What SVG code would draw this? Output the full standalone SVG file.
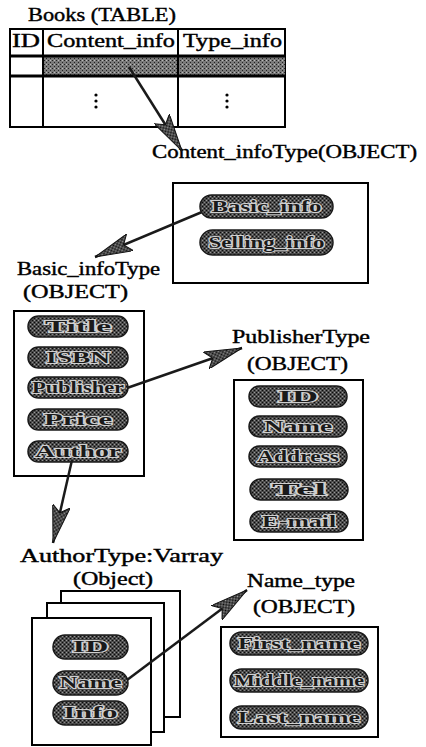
<svg xmlns="http://www.w3.org/2000/svg" width="426" height="747" viewBox="0 0 426 747">
<defs>
<style>
.lbl{font-family:"Liberation Serif","Times New Roman",serif;font-size:18px;fill:#000;stroke:#000;stroke-width:0.4px;}
.hd{font-family:"Liberation Serif","Times New Roman",serif;font-size:18px;fill:#000;stroke:#000;stroke-width:0.4px;}
.box{fill:#fff;stroke:#000;stroke-width:2;}
.pill{fill:url(#pdith);stroke:#1a1a1a;stroke-width:1.5;}
.pt{font-family:"Liberation Serif","Times New Roman",serif;font-size:16px;font-weight:bold;fill:#1a1a1a;stroke:#d0d0d0;stroke-width:2px;paint-order:stroke;text-anchor:middle;}
.conn{stroke:#1a1a1a;stroke-width:2.5;fill:none;marker-end:url(#ah);}
</style>
<pattern id="dith" width="4" height="4" patternUnits="userSpaceOnUse">
<rect width="4" height="4" fill="#7a7a7a"/>
<rect x="0" y="0" width="1" height="1" fill="#222"/>
<rect x="2" y="2" width="1" height="1" fill="#222"/>
<rect x="2" y="0" width="1" height="1" fill="#bbb"/>
</pattern>
<pattern id="pdith" width="4" height="4" patternUnits="userSpaceOnUse">
<rect width="4" height="4" fill="#4a4a4a"/>
<rect x="0" y="0" width="1" height="1" fill="#0a0a0a"/>
<rect x="2" y="2" width="1" height="1" fill="#0a0a0a"/>
<rect x="2" y="0" width="1" height="1" fill="#999"/>
<rect x="0" y="2" width="1" height="1" fill="#888"/>
</pattern>
<marker id="ah" viewBox="0 0 38 18" refX="38" refY="9" markerWidth="38" markerHeight="18" markerUnits="userSpaceOnUse" orient="auto">
<path d="M0,0 L38,9 L0,18 L7,9 Z" fill="url(#pdith)" stroke="#111" stroke-width="1"/>
</marker>
</defs>
<rect width="426" height="747" fill="#fff"/>

<g id="books">
<text class="lbl" x="28" y="21" textLength="148" lengthAdjust="spacingAndGlyphs">Books (TABLE)</text>
<rect x="10" y="29" width="275" height="98" fill="#fff" stroke="#000" stroke-width="2"/>
<rect x="43" y="57" width="242" height="18" fill="url(#dith)"/>
<line x1="10" y1="56" x2="285" y2="56" stroke="#000" stroke-width="3"/>
<line x1="10" y1="76" x2="285" y2="76" stroke="#000" stroke-width="3"/>
<line x1="43" y1="29" x2="43" y2="127" stroke="#000" stroke-width="2"/>
<line x1="178" y1="29" x2="178" y2="127" stroke="#000" stroke-width="2"/>
<text class="hd" x="12" y="47" textLength="28" lengthAdjust="spacingAndGlyphs">ID</text>
<text class="hd" x="47" y="47" textLength="128" lengthAdjust="spacingAndGlyphs">Content_info</text>
<text class="hd" x="183" y="47" textLength="99" lengthAdjust="spacingAndGlyphs">Type_info</text>
<g fill="#000">
<circle cx="96" cy="95" r="1.6"/><circle cx="96" cy="101" r="1.6"/><circle cx="96" cy="107" r="1.6"/>
<circle cx="227" cy="95" r="1.6"/><circle cx="227" cy="101" r="1.6"/><circle cx="227" cy="107" r="1.6"/>
</g>
</g>

<g id="content_infoType">
<text class="lbl" x="152" y="158" textLength="265" lengthAdjust="spacingAndGlyphs">Content_infoType(OBJECT)</text>
<rect class="box" x="173" y="183" width="195" height="100"/>
<rect class="pill" x="200" y="195" width="133" height="23" rx="11.5"/>
<text class="pt" x="266.5" y="212" textLength="110" lengthAdjust="spacingAndGlyphs">Basic_info</text>
<rect class="pill" x="200" y="230" width="133" height="25" rx="12.5"/>
<text class="pt" x="266.5" y="248" textLength="116" lengthAdjust="spacingAndGlyphs">Selling_info</text>
</g>

<g id="basic_infoType">
<text class="lbl" x="17" y="275" textLength="143" lengthAdjust="spacingAndGlyphs">Basic_infoType</text>
<text class="lbl" x="23" y="298" textLength="105" lengthAdjust="spacingAndGlyphs">(OBJECT)</text>
<rect class="box" x="14" y="311" width="130" height="165"/>
<rect class="pill" x="28" y="316" width="100" height="21" rx="10.5"/>
<text class="pt" x="78" y="332" textLength="66" lengthAdjust="spacingAndGlyphs">Title</text>
<rect class="pill" x="28" y="347" width="100" height="21" rx="10.5"/>
<text class="pt" x="78" y="363" textLength="64" lengthAdjust="spacingAndGlyphs">ISBN</text>
<rect class="pill" x="28" y="377" width="100" height="21" rx="10.5"/>
<text class="pt" x="78" y="393" textLength="92" lengthAdjust="spacingAndGlyphs">Publisher</text>
<rect class="pill" x="28" y="409" width="100" height="21" rx="10.5"/>
<text class="pt" x="78" y="425" textLength="68" lengthAdjust="spacingAndGlyphs">Price</text>
<rect class="pill" x="28" y="441" width="100" height="21" rx="10.5"/>
<text class="pt" x="78" y="457" textLength="86" lengthAdjust="spacingAndGlyphs">Author</text>
</g>

<g id="publisherType">
<text class="lbl" x="232" y="343" textLength="138" lengthAdjust="spacingAndGlyphs">PublisherType</text>
<text class="lbl" x="247" y="370" textLength="101" lengthAdjust="spacingAndGlyphs">(OBJECT)</text>
<rect class="box" x="234" y="380" width="129" height="160"/>
<rect class="pill" x="249" y="386" width="98" height="21" rx="10.5"/>
<text class="pt" x="298" y="402" textLength="40" lengthAdjust="spacingAndGlyphs">ID</text>
<rect class="pill" x="249" y="416" width="98" height="21" rx="10.5"/>
<text class="pt" x="298" y="432" textLength="68" lengthAdjust="spacingAndGlyphs">Name</text>
<rect class="pill" x="249" y="446" width="98" height="21" rx="10.5"/>
<text class="pt" x="298" y="462" textLength="82" lengthAdjust="spacingAndGlyphs">Address</text>
<rect class="pill" x="250" y="479" width="98" height="21" rx="10.5"/>
<text class="pt" x="299" y="495" textLength="54" lengthAdjust="spacingAndGlyphs">Tel</text>
<rect class="pill" x="250" y="511" width="98" height="21" rx="10.5"/>
<text class="pt" x="299" y="527" textLength="74" lengthAdjust="spacingAndGlyphs">E-mail</text>
</g>

<g id="authorType">
<text class="lbl" x="20" y="562" textLength="203" lengthAdjust="spacingAndGlyphs">AuthorType:Varray</text>
<text class="lbl" x="73" y="585" textLength="80" lengthAdjust="spacingAndGlyphs">(Object)</text>
<rect class="box" x="61" y="591" width="119" height="126"/>
<rect class="box" x="47" y="603" width="117" height="129"/>
<rect class="box" x="32" y="618" width="119" height="127"/>
<rect class="pill" x="53" y="635" width="75" height="24" rx="12"/>
<text class="pt" x="90.5" y="652" textLength="36" lengthAdjust="spacingAndGlyphs">ID</text>
<rect class="pill" x="53" y="671" width="75" height="24" rx="12"/>
<text class="pt" x="90.5" y="688" textLength="62" lengthAdjust="spacingAndGlyphs">Name</text>
<rect class="pill" x="53" y="701" width="75" height="24" rx="12"/>
<text class="pt" x="90.5" y="718" textLength="54" lengthAdjust="spacingAndGlyphs">Info</text>
</g>

<g id="name_type">
<text class="lbl" x="247" y="587" textLength="108" lengthAdjust="spacingAndGlyphs">Name_type</text>
<text class="lbl" x="253" y="613" textLength="102" lengthAdjust="spacingAndGlyphs">(OBJECT)</text>
<rect class="box" x="221" y="627" width="157" height="110"/>
<rect class="pill" x="230" y="632" width="138" height="23" rx="11.5"/>
<text class="pt" x="299" y="649" textLength="122" lengthAdjust="spacingAndGlyphs">First_name</text>
<rect class="pill" x="230" y="669" width="138" height="23" rx="11.5"/>
<text class="pt" x="299" y="686" textLength="130" lengthAdjust="spacingAndGlyphs">Middle_name</text>
<rect class="pill" x="230" y="706" width="138" height="23" rx="11.5"/>
<text class="pt" x="299" y="723" textLength="122" lengthAdjust="spacingAndGlyphs">Last_name</text>
</g>

<g id="connectors">
<line class="conn" x1="129" y1="67" x2="182" y2="151"/>
<line class="conn" x1="202" y1="212" x2="95" y2="257"/>
<line class="conn" x1="127" y1="388" x2="242" y2="348"/>
<line class="conn" x1="72" y1="460" x2="53" y2="543"/>
<line class="conn" x1="127" y1="680" x2="247" y2="590"/>
</g>
</svg>
